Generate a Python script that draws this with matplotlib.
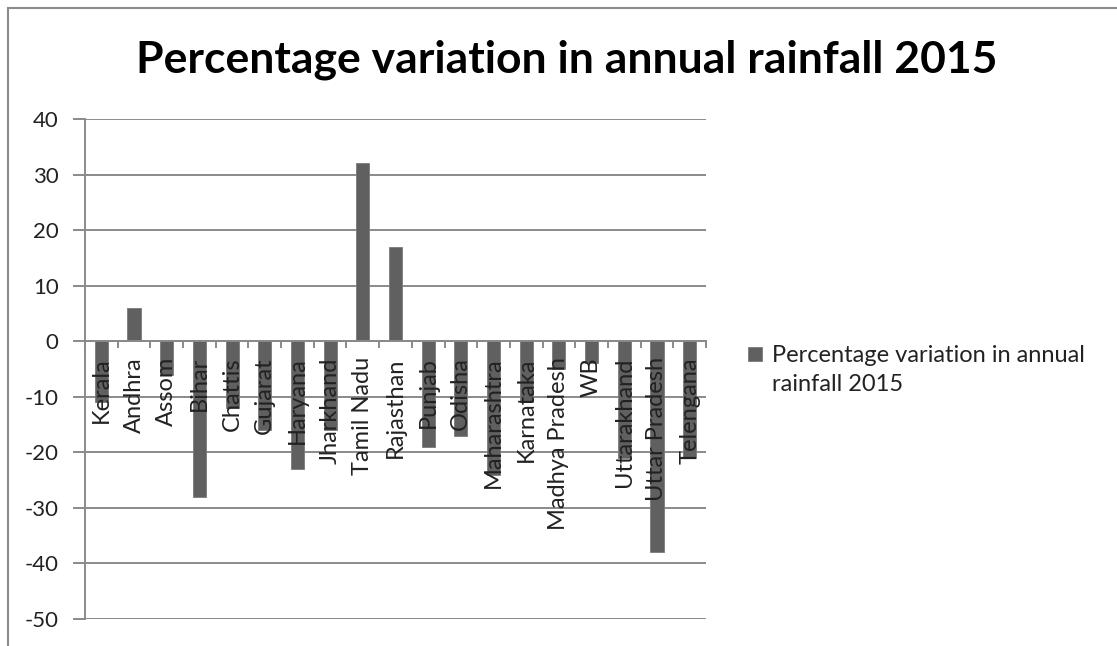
import matplotlib
matplotlib.use("Agg")
import matplotlib.pyplot as plt
from matplotlib.patches import Rectangle
from matplotlib.ticker import FixedLocator, NullFormatter

states = ["Kerala", "Andhra", "Assom", "Bihar", "Chattis", "Gujarat", "Haryana",
          "Jharkhand", "Tamil Nadu", "Rajasthan", "Punjab", "Odisha", "Maharashtra",
          "Karnataka", "Madhya Pradesh", "WB", "Uttarakhand", "Uttar Pradesh", "Telengana"]
variation = [-11, 6, -6, -28, -12, -16, -23, -16, 32, 17, -19, -17, -24, -11, -5, -4, -21, -38, -21]
series_name = "Percentage variation in annual\nrainfall 2015"
title = "Percentage variation in annual rainfall 2015"
yticks = [40, 30, 20, 10, 0, -10, -20, -30, -40, -50]

plt.rcParams['font.family'] = ['Lato', 'DejaVu Sans']

W, H = 1117, 646
fig = plt.figure(figsize=(W / 100, H / 100), dpi=100)

# outer chart border
fig.patches.append(Rectangle((8 / W, -0.1), 1.2, 1 - 8 / H + 0.1, transform=fig.transFigure,
                             fill=False, edgecolor='#8c8c8c', linewidth=1.5))

ax = fig.add_axes([85 / W, 1 - 619 / H, (706 - 85) / W, (619 - 119) / H])

grid_c = '#8a8a8a'
bar_c = '#606060'
txt_c = '#222222'
x = list(range(len(states)))

for v in yticks:
    ax.axhline(v, color=grid_c, linewidth=1.4, zorder=1)
ax.bar(x, variation, width=0.4, color=bar_c, edgecolor='#7a7a7a', linewidth=0.6, zorder=2)

ax.set_xlim(-0.5, len(states) - 0.5)
ax.set_ylim(-50, 40)
ax.set_yticks(yticks)
ax.set_yticklabels([str(v) for v in yticks], fontsize=16, color=txt_c)
ax.tick_params(axis='y', length=9, width=1.4, color=grid_c, pad=10)

for s in ['top', 'right']:
    ax.spines[s].set_visible(False)
ax.spines['left'].set_color(grid_c)
ax.spines['left'].set_linewidth(1.4)
ax.spines['bottom'].set_position(('data', 0))
ax.spines['bottom'].set_color(grid_c)
ax.spines['bottom'].set_linewidth(1.4)

ax.set_xticks(x)
ax.xaxis.set_major_formatter(NullFormatter())
ax.tick_params(axis='x', which='major', length=0)
ax.xaxis.set_minor_locator(FixedLocator([i - 0.5 for i in range(len(states) + 1)]))
ax.xaxis.set_minor_formatter(NullFormatter())
ax.tick_params(axis='x', which='minor', length=5, width=1.4, color=grid_c, direction='out')

# category labels drawn over the bars, hanging from the zero line
for xi, name in zip(x, states):
    ax.annotate(name, xy=(xi, 0), xytext=(0, -11.5), textcoords='offset points',
                rotation=90, ha='center', va='top', fontsize=17, color=txt_c,
                zorder=5, annotation_clip=False)

fig.text(567 / W, 1 - 60 / H, title, fontsize=32, fontweight='bold', ha='center', va='center',
         color='black')

# legend
fig.patches.append(Rectangle((748 / W, 1 - 361 / H), 14 / W, 14 / H, transform=fig.transFigure,
                             facecolor=bar_c, edgecolor='#7a7a7a', linewidth=0.6))
fig.text(772 / W, 1 - 345 / H, series_name, fontsize=17, color=txt_c, ha='left', va='top',
         linespacing=1.5, transform=fig.transFigure)

fig.savefig('out.png', dpi=100)
